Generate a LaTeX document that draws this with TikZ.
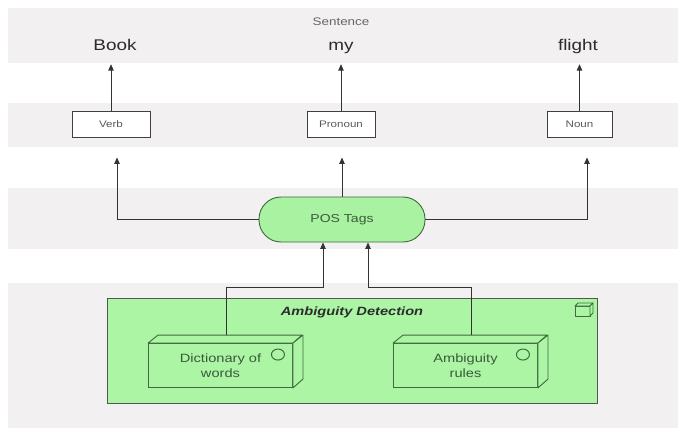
\documentclass[tikz,border=0pt]{standalone}
\usepackage{fontspec}
\setmainfont[FakeStretch=1.22]{Liberation Sans}
\usetikzlibrary{arrows.meta}
\definecolor{bandgray}{HTML}{F2F0F0}
\definecolor{greenfill}{HTML}{ABF5A5}
\definecolor{posfill}{HTML}{A9F2A1}
\definecolor{greenline}{HTML}{3E6A3E}
\definecolor{boxline}{HTML}{505850}
\definecolor{txt}{HTML}{2C2C2C}
\definecolor{gtxt}{HTML}{3A5A3A}
\tikzset{
  word/.style={font=\fontsize{15.5}{18}\selectfont, text=txt, inner sep=0pt, text height=11pt, text depth=3pt},
  tagbox/.style={draw=black!75, line width=0.9pt, fill=white, font=\fontsize{9.5}{11}\selectfont, text=black!65, minimum height=26pt, inner sep=0pt},
  arr/.style={draw=black!80, line width=0.9pt, -{Triangle[length=6.5pt,width=5.5pt]}},
  device/.style={draw=greenline, line width=0.9pt, fill=greenfill, minimum width=144pt, minimum height=44pt, inner sep=0pt, align=center, font=\fontsize{12}{15}\selectfont, text=gtxt},
  devside/.style={draw=greenline, line width=0.9pt, fill=greenfill, line join=round},
}
\begin{document}
\begin{tikzpicture}[x=1pt,y=-1pt]
\useasboundingbox (0,0) rectangle (678,428);
% background bands
\fill[bandgray] (8,8) rectangle (678,428);
\fill[white] (8,63) rectangle (678,103);
\fill[white] (8,147) rectangle (678,188);
\fill[white] (8,249) rectangle (678,283);

% top words
\node[font=\fontsize{11}{13}\selectfont, text=black!60] (sent) at (341,22) {Sentence};
\node[word] (book) at (115,46.5) {Book};
\node[word] (my) at (341,46.5) {my};
\node[word] (flight) at (578,46.5) {flight};

% tag boxes
\node[tagbox, minimum width=78pt] (verb) at (111,124) {Verb};
\node[tagbox, minimum width=68pt] (pron) at (341,124) {Pronoun};
\node[tagbox, minimum width=65pt] (noun) at (579.5,124) {Noun};

\draw[arr, shorten >=10.5pt] (verb.north) -- (verb.north |- book.south);
\draw[arr, shorten >=10.5pt] (pron.north) -- (pron.north |- my.south);
\draw[arr, shorten >=10.5pt] (noun.north) -- (noun.north |- flight.south);

% POS tags
\node[draw=greenline, line width=0.9pt, fill=posfill, rounded corners=22pt, minimum width=166pt, minimum height=45pt, inner sep=0pt, font=\fontsize{11.5}{13}\selectfont, text=gtxt] (pos) at (342,219.5) {POS Tags};

\draw[arr, shorten >=20pt] (pos.west) -| ([xshift=6pt]verb.south);
\draw[arr, shorten >=20pt] (pos.north) -- (pos.north |- pron.south);
\draw[arr, shorten >=20pt] (pos.east) -| ([xshift=7.5pt]noun.south);

% Ambiguity detection group
\node[draw=boxline, line width=0.9pt, fill=greenfill, minimum width=490pt, minimum height=105pt, inner sep=0pt] (amb) at (352,350.5) {};
\node[font=\fontsize{12}{14}\selectfont\bfseries\itshape, text=txt] (ambt) at (352,312) {Ambiguity Detection};
% group icon
\draw[devside, line width=0.8pt] (575,306) rectangle (590,316);
\draw[devside, line width=0.8pt] (575,306) -- (578,303) -- (593,303) -- (590,306) -- cycle;
\draw[devside, line width=0.8pt] (590,306) -- (593,303) -- (593,313) -- (590,316) -- cycle;

% devices
\node[device] (dict) at (220.5,365.5) {Dictionary of\\words};
\node[device] (rules) at (465.5,365.5) {Ambiguity\\rules};
\foreach \n in {dict,rules}{
  \draw[devside] (\n.north west) -- ++(10,-8) -- ++(144,0) -- (\n.north east) -- cycle;
  \draw[devside] (\n.north east) -- ++(10,-8) -- ++(0,44) -- (\n.south east) -- cycle;
  \draw[greenline, line width=1pt] ([xshift=-15pt,yshift=-11.5pt]\n.north east) circle[x radius=6.5pt, y radius=5.5pt];
}
\coordinate (dtop) at ([xshift=5.5pt,yshift=8pt]dict.north);
\coordinate (rtop) at ([xshift=5.5pt,yshift=8pt]rules.north);

\draw[arr] (dtop) |- ([xshift=-19pt,yshift=-45pt]pos.south) -- ([xshift=-19pt]pos.south);
\draw[arr] (rtop) |- ([xshift=26pt,yshift=-45pt]pos.south) -- ([xshift=26pt]pos.south);
\end{tikzpicture}
\end{document}
